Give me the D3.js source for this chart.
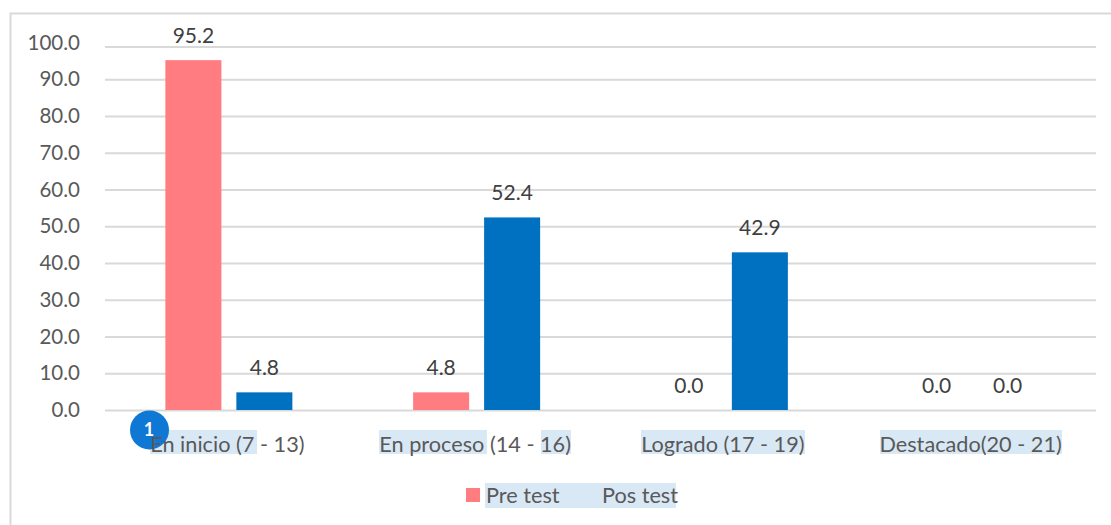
<!DOCTYPE html>
<html>
<head>
<meta charset="utf-8">
<script src="https://cdnjs.cloudflare.com/ajax/libs/d3/7.8.5/d3.min.js"></script>
<style>
  html, body { margin: 0; padding: 0; background: #fff; }
  svg { display: block; }
  text { font-family: Lato, "Open Sans", sans-serif; }
</style>
</head>
<body>
<div id="chart"></div>
<script>
const categories = ['En inicio (7 - 13)', 'En proceso (14 - 16)', 'Logrado (17 - 19)', 'Destacado(20 - 21)'];
const seriesNames = ['Pre test', 'Pos test'];
const preTest = [95.2, 4.8, 0.0, 0.0];
const posTest = [4.8, 52.4, 42.9, 0.0];
const yTicks = [0, 10, 20, 30, 40, 50, 60, 70, 80, 90, 100];

const width = 1111;
const height = 525;
const margin = { top: 42.5, right: 15, bottom: 115, left: 105 };
const colors = ['#ff7c80', '#0070c0'];
const gridColor = '#d9d9d9';
const textColor = '#595959';
const highlight = '#d9e8f5';

const svg = d3.select('#chart').append('svg')
  .attr('width', width)
  .attr('height', height);

// chart frame, cropped on the right and bottom in the source
svg.append('path')
  .attr('d', 'M10.5,525V13.5H1111')
  .attr('fill', 'none')
  .attr('stroke', gridColor)
  .attr('stroke-width', 2);

const x0 = d3.scaleBand()
  .domain(categories)
  .range([margin.left, width - margin.right]);

const x1 = d3.scaleBand()
  .domain(seriesNames)
  .range([x0.bandwidth() / 2 - 63.5, x0.bandwidth() / 2 + 63.5])
  .paddingInner(0.211);

const y = d3.scaleLinear()
  .domain([0, 100])
  .range([height - margin.bottom, margin.top]);

// y axis + grid lines
const yAxis = svg.append('g')
  .attr('transform', `translate(${margin.left},0)`)
  .call(d3.axisLeft(y)
    .tickValues(yTicks)
    .tickSize(-(width - margin.left - margin.right))
    .tickPadding(25)
    .tickFormat(d3.format('.1f')));
yAxis.select('.domain').remove();
yAxis.selectAll('line')
  .attr('stroke', gridColor)
  .attr('stroke-width', 2);
yAxis.selectAll('text')
  .attr('fill', textColor)
  .style('font-family', 'Lato, "Open Sans", sans-serif')
  .style('font-size', '20.5px');
// the top grid line sits a little lower than its label in the source
yAxis.selectAll('.tick').filter(d => d === 100).select('line')
  .attr('y1', 4)
  .attr('y2', 4);

// bars
const groups = svg.selectAll('.group')
  .data(categories)
  .enter().append('g')
  .attr('class', 'group')
  .attr('transform', d => `translate(${x0(d)},0)`);

const rows = (d, i) => [
  { name: seriesNames[0], value: preTest[i] },
  { name: seriesNames[1], value: posTest[i] },
];

groups.selectAll('rect')
  .data(rows)
  .enter().append('rect')
  .attr('x', d => x1(d.name))
  .attr('y', d => y(d.value))
  .attr('width', x1.bandwidth())
  .attr('height', d => y(0) - y(d.value))
  .attr('fill', (d, i) => colors[i]);

groups.selectAll('.value')
  .data(rows)
  .enter().append('text')
  .attr('class', 'value')
  .attr('x', d => x1(d.name) + x1.bandwidth() / 2)
  .attr('y', d => y(d.value) - 17.5)
  .attr('text-anchor', 'middle')
  .attr('fill', '#404040')
  .style('font-size', '21px')
  .text(d => d.value.toFixed(1));

// selection highlights that sit behind the category and legend text
const marks = [
  [150, 430, 107, 24], [379, 430, 108, 24], [541, 430, 30, 24],
  [641, 430, 164, 24], [880, 430, 182, 24], [485, 483, 191, 25],
];
svg.selectAll('.mark')
  .data(marks)
  .enter().append('rect')
  .attr('class', 'mark')
  .attr('x', d => d[0])
  .attr('y', d => d[1])
  .attr('width', d => d[2])
  .attr('height', d => d[3])
  .attr('fill', highlight);

// numbered badge
svg.append('circle')
  .attr('cx', 149.5)
  .attr('cy', 430)
  .attr('r', 19.5)
  .attr('fill', '#0f78d4');
svg.append('text')
  .attr('x', 149)
  .attr('y', 436)
  .attr('text-anchor', 'middle')
  .attr('fill', '#fff')
  .style('font-size', '18px')
  .style('font-weight', 700)
  .text('1');

// category labels
svg.selectAll('.cat')
  .data(categories)
  .enter().append('text')
  .attr('class', 'cat')
  .attr('x', d => x0(d) + x0.bandwidth() / 2 - 1.5)
  .attr('y', 451.5)
  .attr('text-anchor', 'middle')
  .attr('fill', textColor)
  .style('font-size', '21.7px')
  .text(d => d);

// legend
svg.append('rect')
  .attr('x', 466)
  .attr('y', 488)
  .attr('width', 14)
  .attr('height', 14)
  .attr('fill', colors[0]);
svg.selectAll('.legend')
  .data(seriesNames)
  .enter().append('text')
  .attr('class', 'legend')
  .attr('x', (d, i) => (i === 0 ? 486 : 602))
  .attr('y', 502.5)
  .attr('fill', textColor)
  .style('font-size', '21.7px')
  .text(d => d);
</script>
</body>
</html>
